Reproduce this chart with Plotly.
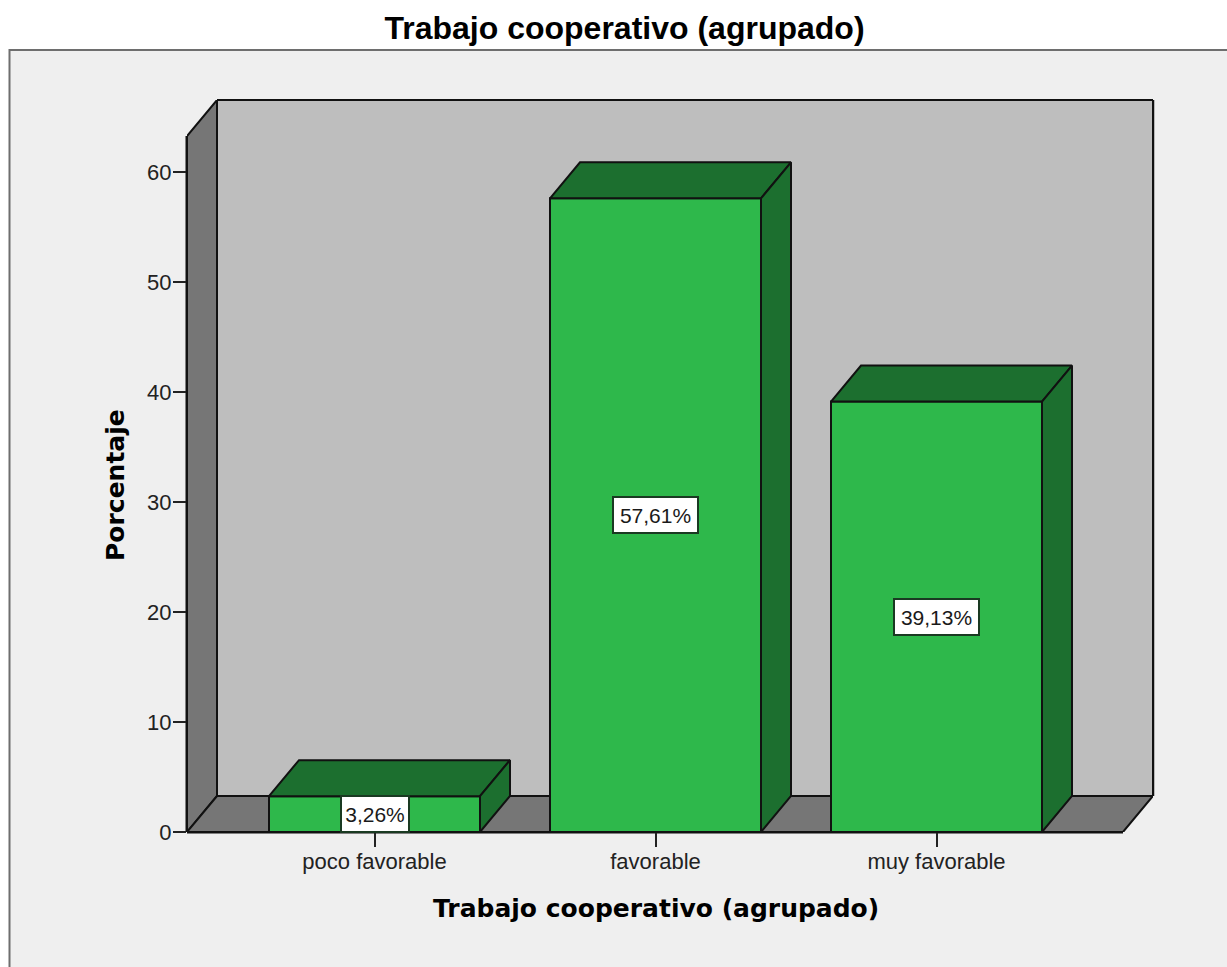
"""Trabajo cooperativo (agrupado): SPSS style pseudo 3D bar chart."""

import plotly.graph_objects as go

categories = ["poco favorable", "favorable", "muy favorable"]
percentages = [3.26, 57.61, 39.13]
bar_labels = ["3,26%", "57,61%", "39,13%"]
y_ticks = [0, 10, 20, 30, 40, 50, 60]

W, H = 1227, 967
# plot box in page pixels: front axis corner to back wall corner
LEFT, RIGHT, TOP, BOTTOM = 187, 1153, 100, 832
DEPTH_X, DEPTH_Y = 30, 36
STEP_PX = 281  # px between categories
FIRST_PX = 374.5
UNIT_PX = 11  # px per percentage point

DX = DEPTH_X / STEP_PX  # depth offset in x units
DY = DEPTH_Y / UNIT_PX  # depth offset in y units
BAR_W = 211 / STEP_PX

x_min = (LEFT - FIRST_PX) / STEP_PX
x_max = (RIGHT - FIRST_PX) / STEP_PX
y_max = (BOTTOM - TOP) / UNIT_PX

GREEN, GREEN_DARK = "#2EB84B", "#1C6F2F"
WALL, WALL_DARK = "#BEBEBE", "#767676"
PANEL = "#EFEFEF"
EDGE = "#111111"


def poly(points):
    return "M" + "L".join(f"{x},{y}" for x, y in points) + "Z"


def page_line(x0, y0, x1, y1, width):
    # frame lines in paper coords, axis shapes would get half clipped at the edge
    fig.add_shape(
        type="line", xref="paper", yref="paper", layer="below",
        x0=x0 / W, x1=x1 / W, y0=1 - y0 / H, y1=1 - y1 / H,
        line=dict(color=EDGE, width=width),
    )


fig = go.Figure()

# Panel behind everything
fig.add_shape(
    type="rect", xref="paper", yref="paper", layer="below",
    x0=9.5 / W, x1=1.02, y0=-0.02, y1=1 - 50 / H,
    fillcolor=PANEL, line=dict(color="#6E6E6E", width=2),
)

# Box walls go below the bars as layout shapes
walls = [
    (WALL, [(x_min + DX, DY), (x_max, DY), (x_max, y_max), (x_min + DX, y_max)]),
    (WALL_DARK, [(x_min, 0), (x_min + DX, DY), (x_min + DX, y_max), (x_min, y_max - DY)]),
    (WALL_DARK, [(x_min, 0), (x_max - DX, 0), (x_max, DY), (x_min + DX, DY)]),
]
for colour, pts in walls:
    fig.add_shape(
        type="path", path=poly(pts), xref="x", yref="y", layer="below",
        fillcolor=colour, line=dict(color=EDGE, width=2),
    )
# outer edges of the box
page_line(LEFT, BOTTOM, LEFT, TOP + DEPTH_Y, 3)
page_line(LEFT, BOTTOM, RIGHT - DEPTH_X, BOTTOM, 3)
page_line(LEFT + DEPTH_X, TOP, RIGHT, TOP, 2)
page_line(RIGHT, TOP, RIGHT, BOTTOM - DEPTH_Y, 2.5)

# Front faces
fig.add_trace(go.Bar(
    x=list(range(len(categories))), y=percentages, width=BAR_W,
    marker=dict(color=GREEN, line=dict(color=EDGE, width=2)),
    showlegend=False, hoverinfo="skip",
))

# Top and side faces
for i, val in enumerate(percentages):
    x0, x1 = i - BAR_W / 2, i + BAR_W / 2
    fig.add_trace(go.Scatter(
        x=[x0, x1, x1 + DX, x0 + DX, x0],
        y=[val, val, val + DY, val + DY, val],
        fill="toself", fillcolor=GREEN_DARK, mode="lines",
        line=dict(color=EDGE, width=2), showlegend=False, hoverinfo="skip",
    ))
    fig.add_trace(go.Scatter(
        x=[x1, x1 + DX, x1 + DX, x1, x1],
        y=[0, DY, val + DY, val, 0],
        fill="toself", fillcolor=GREEN_DARK, mode="lines",
        line=dict(color=EDGE, width=2), showlegend=False, hoverinfo="skip",
    ))
    fig.add_annotation(
        x=i, y=val / 2, text=bar_labels[i], showarrow=False,
        font=dict(family="Liberation Sans", size=21, color="#1a1a1a"),
        bgcolor="white", bordercolor="#1a3a22", borderwidth=2,
        width=64 + 17 * (len(bar_labels[i]) - 5), height=32,
    )

fig.add_annotation(
    xref="paper", yref="paper", x=115 / W, y=1 - 485 / H, textangle=-90,
    xanchor="center", yanchor="middle", text="Porcentaje", showarrow=False,
    font=dict(family="DejaVu Sans", size=25, color="black", weight="bold"),
)
fig.add_annotation(
    xref="paper", yref="paper", x=656 / W, y=1 - 908 / H,
    xanchor="center", yanchor="middle",
    text="Trabajo cooperativo (agrupado)", showarrow=False,
    font=dict(family="DejaVu Sans", size=25, color="black", weight="bold"),
)

fig.update_layout(
    width=W, height=H, margin=dict(l=0, r=0, t=0, b=0),
    paper_bgcolor="white", plot_bgcolor="rgba(0,0,0,0)",
    title=dict(
        text="Trabajo cooperativo (agrupado)", x=624.5 / W, y=1 - 28 / H,
        xanchor="center", yanchor="middle",
        font=dict(family="Liberation Sans", size=32, color="black", weight="bold"),
    ),
    xaxis=dict(
        domain=[LEFT / W, RIGHT / W], range=[x_min, x_max], tickmode="array",
        tickvals=list(range(len(categories))), ticktext=categories, automargin=False,
        ticks="outside", ticklen=14, tickwidth=2, tickcolor="#222222",
        showgrid=False, zeroline=False, showline=False, ticklabelstandoff=-4,
        tickfont=dict(family="Liberation Sans", size=22, color="#222222"),
    ),
    yaxis=dict(
        domain=[1 - BOTTOM / H, 1 - TOP / H], range=[0, y_max], tickmode="array",
        tickvals=y_ticks, ticks="outside", ticklen=13, tickwidth=2, automargin=False,
        tickcolor="#222222", showgrid=False, zeroline=False, ticklabelstandoff=-3,
        showline=False,
        tickfont=dict(family="Liberation Sans", size=22, color="#222222"),
    ),
)

# the page's default body margin would push the figure 8px off
fig.write_html("out.html", config={"displayModeBar": False},
               post_script="document.body.style.margin='0';")
